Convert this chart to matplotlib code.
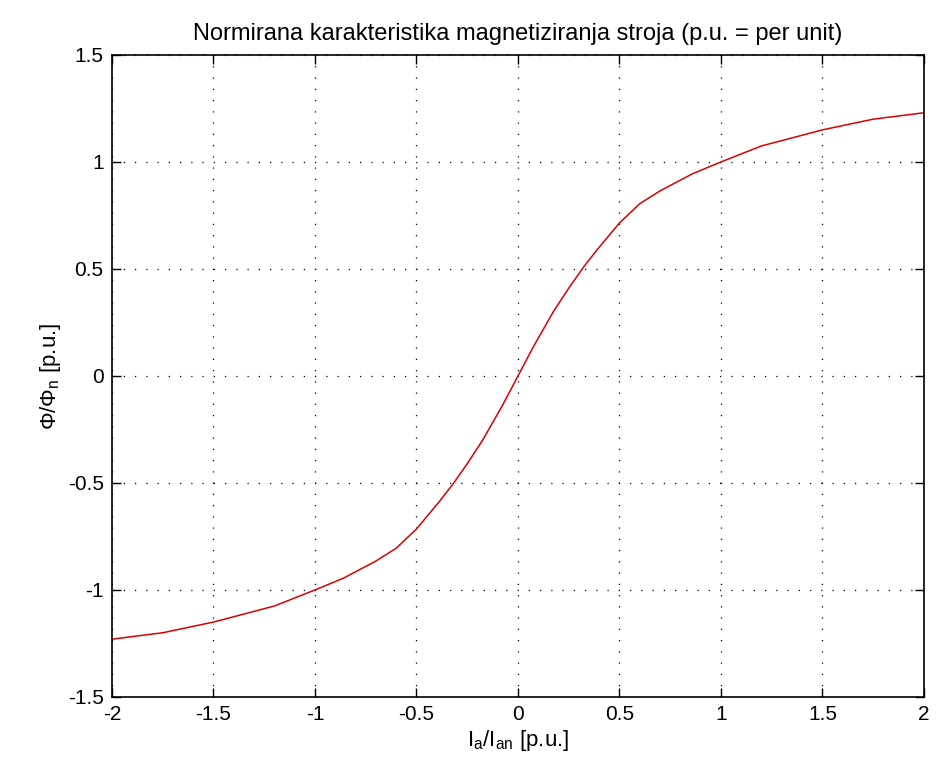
import matplotlib
matplotlib.use('Agg')
from matplotlib import pyplot as plt
import numpy as np

plt.rcParams['font.family'] = ['Liberation Sans', 'DejaVu Sans']
plt.rcParams['mathtext.fontset'] = 'custom'
plt.rcParams['mathtext.rm'] = 'Liberation Sans'
plt.rcParams['mathtext.it'] = 'Liberation Sans'

# values (positive half, curve is odd-symmetric)
i_pos = np.array([0.0, 0.075, 0.174, 0.25, 0.32, 0.39, 0.5, 0.6, 0.7, 0.86, 1.0, 1.2, 1.5, 1.75, 2.0])
phi_pos = np.array([0.0, 0.135, 0.30, 0.41, 0.505, 0.59, 0.715, 0.805, 0.865, 0.945, 1.0, 1.075, 1.15, 1.20, 1.23])

i_a = np.concatenate([-i_pos[:0:-1], i_pos])
phi = np.concatenate([-phi_pos[:0:-1], phi_pos])

title = 'Normirana karakteristika magnetiziranja stroja (p.u. = per unit)'
xticks = [-2, -1.5, -1, -0.5, 0, 0.5, 1, 1.5, 2]
yticks = [-1.5, -1, -0.5, 0, 0.5, 1, 1.5]

fig = plt.figure(figsize=(9.37, 7.72), dpi=100)
ax = fig.add_axes([0.1195, 0.0972, 0.8666, 0.8316])

ax.plot(i_a, phi, color='#d80000', linewidth=1.1)

ax.set_xlim(-2, 2)
ax.set_ylim(-1.5, 1.5)
ax.set_xticks(xticks)
ax.set_yticks(yticks)
ax.set_xticklabels([f'{t:g}' for t in xticks])
ax.set_yticklabels([f'{t:g}' for t in yticks])

ax.grid(True, color='black', linestyle=(0, (1, 8)), linewidth=0.9)
ax.tick_params(direction='in', length=6.5, width=1.0, labelsize=15, top=True, right=True, pad=6)
for s in ax.spines.values():
    s.set_linewidth(1.2)

ax.set_title(title, fontsize=17, pad=11)
ax.set_xlabel(r'$\mathrm{I_a/I_{an}}$ [p.u.]', fontsize=16, labelpad=3)
ax.set_ylabel(r'$\mathrm{\Phi/\Phi_n}$ [p.u.]', fontsize=16, labelpad=3)

fig.savefig('out.png', dpi=100)
